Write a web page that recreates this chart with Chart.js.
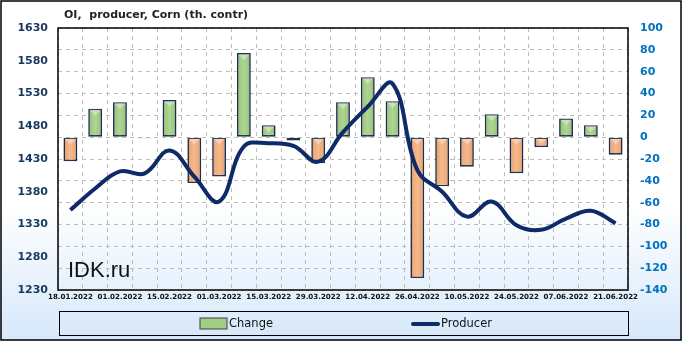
<!DOCTYPE html>
<html>
<head>
<meta charset="utf-8">
<script src="https://cdn.jsdelivr.net/npm/chart.js@4/dist/chart.umd.min.js"></script>
<style>
html,body{margin:0;padding:0;background:#fff;}
#wrap{width:682px;height:341px;position:relative;}
</style>
</head>
<body>
<div id="wrap"><canvas id="c" width="682" height="341"></canvas></div>
<script>
const dates = ["18.01.2022","25.01.2022","01.02.2022","08.02.2022","15.02.2022","22.02.2022","01.03.2022","08.03.2022","15.03.2022","22.03.2022","29.03.2022","05.04.2022","12.04.2022","19.04.2022","26.04.2022","03.05.2022","10.05.2022","17.05.2022","24.05.2022","31.05.2022","07.06.2022","14.06.2022","21.06.2022"];
const changeValues = [-22, 26, 32, -1, 34, -42, -36, 77, 11, -3, -24, 32, 55, 33, -129, -45, -27, 21, -33, -9, 17, 11, -16];
const producerValues = [1352, 1385, 1411, 1408, 1443, 1403, 1365, 1449, 1454, 1450, 1426, 1471, 1510, 1545, 1413, 1380, 1342, 1365, 1329, 1322, 1339, 1351, 1332];
const leftTicks = {min: 1230, max: 1630, step: 50};
const rightTicks = {min: -140, max: 100, step: 20};
const titleText = "OI,  producer, Corn (th. contr)";
const seriesNames = ["Change", "Producer"];
const watermark = "IDK.ru";

const GREEN = "#a2cd84", ORANGE = "#f2ad7a", EDGE = "#1f3050", NAVY = "#0e2a68";

const decor = {
  id: "decor",
  beforeDraw(chart) {
    const ctx = chart.ctx, W = chart.width, H = chart.height;
    ctx.save();
    const g = ctx.createLinearGradient(0, 0, 0, H);
    g.addColorStop(0, "#ffffff");
    g.addColorStop(0.6, "#ffffff");
    g.addColorStop(1, "#d6e8fb");
    ctx.fillStyle = g;
    ctx.fillRect(0, 0, W, H);
    ctx.restore();
  },
  afterDatasetDraw(chart, args) {
    if (args.index !== 1) return;
    const ctx = chart.ctx;
    const meta = chart.getDatasetMeta(1);
    ctx.save();
    meta.data.forEach(el => {
      const w = el.width, x0 = el.x - w / 2;
      const top = Math.min(el.y, el.base), bot = Math.max(el.y, el.base);
      const h = bot - top;
      if (h < 3) return;
      const gx = ctx.createLinearGradient(x0 + 1, 0, x0 + w - 1, 0);
      gx.addColorStop(0, "rgba(0,0,0,0.2)");
      gx.addColorStop(0.25, "rgba(255,255,255,0.0)");
      gx.addColorStop(0.5, "rgba(255,255,255,0.15)");
      gx.addColorStop(0.75, "rgba(255,255,255,0.0)");
      gx.addColorStop(1, "rgba(0,0,0,0.22)");
      ctx.fillStyle = gx;
      ctx.fillRect(x0 + 1, top + 1, w - 2, h - 2);
      const tri = Math.min(w / 2 - 1, h / 2);
      ctx.fillStyle = "rgba(255,255,255,0.35)";
      ctx.beginPath();
      ctx.moveTo(x0 + 1, top + 1);
      ctx.lineTo(x0 + w - 1, top + 1);
      ctx.lineTo(el.x, top + 1 + tri);
      ctx.closePath();
      ctx.fill();
    });
    ctx.restore();
  },
  afterDatasetsDraw(chart) {
    const ctx = chart.ctx, a = chart.chartArea;
    ctx.save();
    ctx.strokeStyle = "#000";
    ctx.lineWidth = 1.5;
    ctx.strokeRect(a.left, a.top, a.right - a.left, a.bottom - a.top);
    ctx.restore();
  },
  afterDraw(chart) {
    const ctx = chart.ctx, W = chart.width, H = chart.height, a = chart.chartArea;
    ctx.save();
    ctx.strokeStyle = "#000";
    ctx.lineWidth = 1.5;
    ctx.strokeRect(1, 1, W - 2, H - 2);
    ctx.fillStyle = "#222";
    ctx.font = "bold 11px 'DejaVu Sans'";
    ctx.textAlign = "left";
    ctx.textBaseline = "middle";
    ctx.fillText(titleText, 64, 15);
    ctx.fillStyle = "#111";
    ctx.font = "22px 'Liberation Sans'";
    ctx.textBaseline = "alphabetic";
    ctx.fillText(watermark, a.left + 10, 277);
    ctx.lineWidth = 1;
    ctx.strokeStyle = "#000";
    ctx.strokeRect(59.5, 311.5, 569, 24);
    ctx.fillStyle = GREEN;
    ctx.fillRect(200, 318, 27, 11);
    ctx.strokeStyle = "#555";
    ctx.lineWidth = 1.2;
    ctx.strokeRect(200, 318, 27, 11);
    ctx.strokeStyle = NAVY;
    ctx.lineWidth = 4;
    ctx.lineCap = "round";
    ctx.beginPath(); ctx.moveTo(413, 324); ctx.lineTo(438, 324); ctx.stroke();
    ctx.fillStyle = "#111";
    ctx.font = "11.5px 'DejaVu Sans'";
    ctx.textBaseline = "middle";
    ctx.fillText(seriesNames[0], 229, 324);
    ctx.fillText(seriesNames[1], 441, 324);
    ctx.restore();
  }
};

new Chart(document.getElementById("c"), {
  type: "bar",
  data: {
    labels: dates,
    datasets: [
      {
        type: "line",
        label: seriesNames[1],
        data: producerValues,
        yAxisID: "y",
        borderColor: NAVY,
        borderWidth: 4,
        tension: 0.4,
        pointRadius: 0,
        fill: false,
        order: 0
      },
      {
        type: "bar",
        label: seriesNames[0],
        data: changeValues,
        yAxisID: "y1",
        backgroundColor: changeValues.map(v => v >= 0 ? GREEN : ORANGE),
        borderColor: EDGE,
        borderWidth: 1.6,
        borderSkipped: false,
        barPercentage: 0.56,
        categoryPercentage: 1,
        order: 1
      }
    ]
  },
  options: {
    responsive: false,
    animation: false,
    layout: {padding: {top: 28, left: 0, right: 0, bottom: 0}},
    plugins: {legend: {display: false}, title: {display: false}, tooltip: {enabled: false}},
    scales: {
      x: {
        offset: true,
        afterFit(s) { s.height = 51; },
        grid: {offset: true, display: true, color: "#bdbdbd", drawTicks: false},
        border: {display: false, dash: [4, 4]},
        ticks: {
          autoSkip: false, maxRotation: 0, minRotation: 0, padding: 3,
          color: "#111", font: {family: "'DejaVu Sans'", size: 7.1, weight: "bold"},
          callback(v, i) { return i % 2 === 0 ? dates[i] : ""; }
        }
      },
      y: {
        position: "left",
        min: leftTicks.min, max: leftTicks.max,
        afterFit(s) { s.width = 58; },
        grid: {display: false, drawTicks: false},
        border: {display: false},
        ticks: {stepSize: leftTicks.step, padding: 10, color: "#17375e",
          font: {family: "'DejaVu Sans'", size: 11, weight: "bold"},
          callback(v) { return String(v); }}
      },
      y1: {
        position: "right",
        min: rightTicks.min, max: rightTicks.max,
        afterFit(s) { s.width = 54; },
        grid: {display: true, color: "#bdbdbd", drawTicks: false},
        border: {display: false, dash: [4, 4]},
        ticks: {stepSize: rightTicks.step, padding: 12, color: "#0070c0",
          font: {family: "'DejaVu Sans'", size: 11, weight: "bold"},
          callback(v) { return String(v); }}
      }
    }
  },
  plugins: [decor]
});
</script>
</body>
</html>
